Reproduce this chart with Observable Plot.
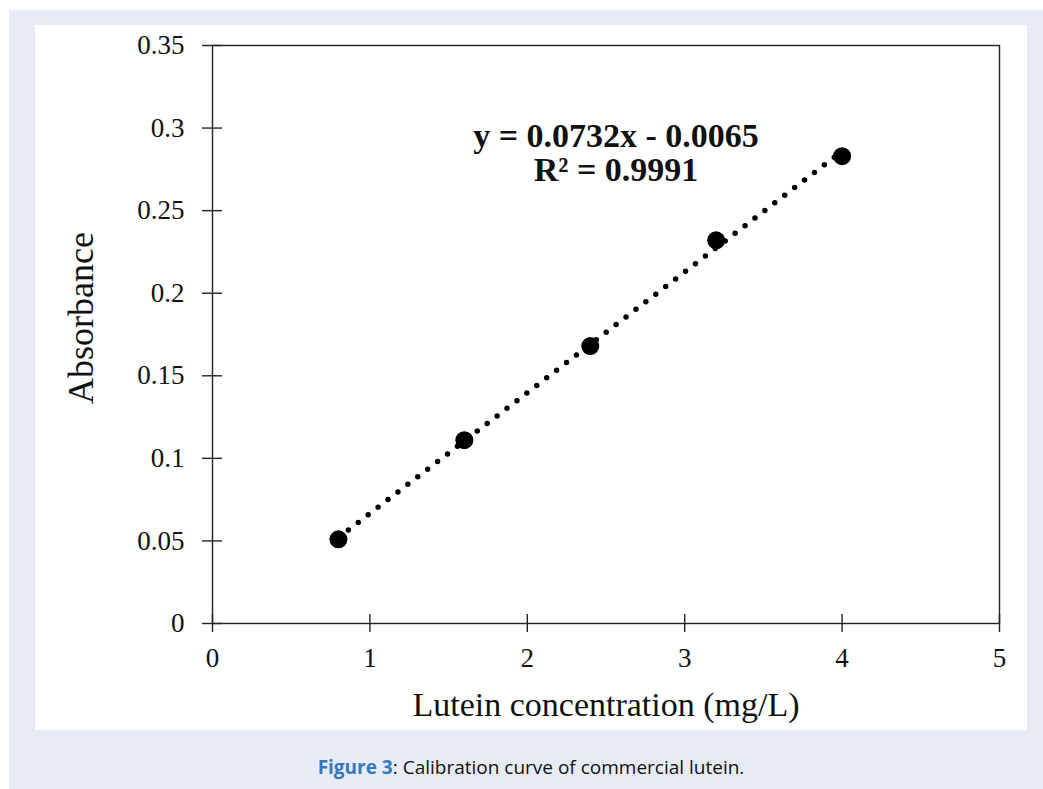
<!DOCTYPE html>
<html>
<head>
<meta charset="utf-8">
<script src="https://cdn.jsdelivr.net/npm/d3@7"></script>
<script src="https://cdn.jsdelivr.net/npm/@observablehq/plot@0.6"></script>
<style>
  html, body { margin: 0; padding: 0; background: #ffffff; }
  #outer { position: absolute; left: 9px; top: 10px; width: 1034px; height: 779px; background: #e7ebf6; }
  #panel { position: absolute; left: 26px; top: 15px; width: 992px; height: 705px; background: #ffffff; }
  #caption { position: absolute; left: 26px; top: 745px; width: 992px; text-align: center;
             font-family: 'Open Sans', 'Noto Sans', sans-serif; font-size: 19px; line-height: 24px; color: #111; }
  #caption b { color: #3479be; font-weight: 700; }
</style>
</head>
<body>
<div id="outer">
  <div id="panel"></div>
  <div id="caption"><b>Figure 3</b>: Calibration curve of commercial lutein.</div>
</div>
<script>
const concentration = [0.8, 1.6, 2.4, 3.2, 4.0];
const absorbance = [0.051, 0.111, 0.168, 0.232, 0.283];
const xTicks = [0, 1, 2, 3, 4, 5];
const xTickLabels = ["0", "1", "2", "3", "4", "5"];
const yTicks = [0, 0.05, 0.1, 0.15, 0.2, 0.25, 0.3, 0.35];
const yTickLabels = ["0", "0.05", "0.1", "0.15", "0.2", "0.25", "0.3", "0.35"];
const equationLines = ["y = 0.0732x - 0.0065", "R² = 0.9991"];
const xLabel = "Lutein concentration (mg/L)";
const yLabel = "Absorbance";

const points = concentration.map((x, i) => ({x, y: absorbance[i]}));

const chart = Plot.plot({
  width: 992,
  height: 705,
  marginLeft: 177,
  marginRight: 28,
  marginTop: 20,
  marginBottom: 107,
  style: {fontFamily: "'Liberation Serif', 'Times New Roman', serif", background: "transparent", color: "#111", overflow: "visible"},
  x: {domain: [0, 5]},
  y: {domain: [0, 0.35]},
  marks: [
    Plot.frame({stroke: "#222", strokeWidth: 1.4}),
    Plot.axisX(xTicks, {label: null, tickSize: 18, dy: -9, tickFormat: () => "", stroke: "#222", strokeWidth: 1.4}),
    Plot.axisX(xTicks, {label: null, tickSize: 0, tickPadding: 24, fontSize: 27, tickFormat: d => xTickLabels[xTicks.indexOf(d)]}),
    Plot.axisY(yTicks, {label: null, tickSize: 20, dx: 10, tickFormat: () => "", stroke: "#222", strokeWidth: 1.4}),
    Plot.axisY(yTicks, {label: null, tickSize: 0, tickPadding: 28, fontSize: 27, tickFormat: d => yTickLabels[yTicks.indexOf(d)]}),
    Plot.linearRegressionY(points, {x: "x", y: "y", ci: 0, stroke: "#000", strokeWidth: 5.5, strokeDasharray: "0,12.5", strokeLinecap: "round"}),
    Plot.dot(points, {x: "x", y: "y", r: 9, fill: "#000"}),
    Plot.text([equationLines.join("\n")], {frameAnchor: "top", dx: 10, dy: 77, lineAnchor: "top", lineHeight: 1.0, fontSize: 34, fontWeight: "bold", fill: "#111"}),
    Plot.text([xLabel], {frameAnchor: "bottom", dy: 92, lineAnchor: "bottom", fontSize: 34, fill: "#111"}),
    Plot.text([yLabel], {frameAnchor: "left", rotate: -90, dx: -120, dy: -16.5, textAnchor: "middle", lineAnchor: "bottom", fontSize: 36, fill: "#111"})
  ]
});
document.getElementById("panel").appendChild(chart);
</script>
</body>
</html>
